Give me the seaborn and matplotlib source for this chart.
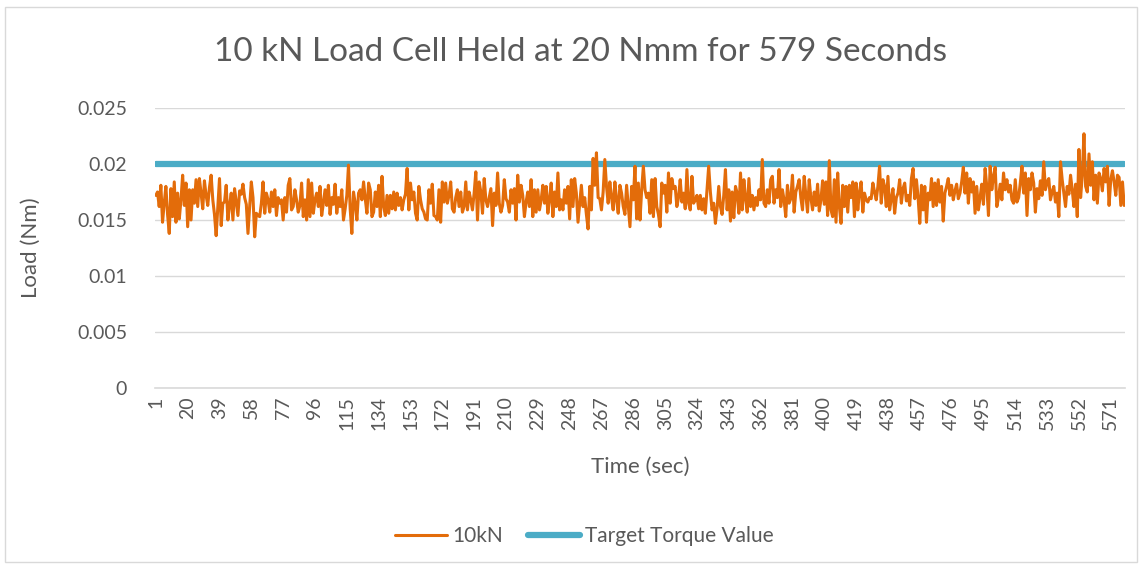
import numpy as np
import pandas as pd
import matplotlib
matplotlib.use('Agg')
import matplotlib.pyplot as plt
from matplotlib.patches import Rectangle
from matplotlib.lines import Line2D
import seaborn as sns

# ── DATA (load, in Nmm; plotted in Nm) ──
load_nmm = [
    17.2, 17.5, 16.2, 18.1, 14.8, 16.5, 18.0, 15.5, 13.8, 17.8, 15.3, 18.4, 14.8, 17.4, 15.1, 16.8, 19.0, 16.3, 18.3, 14.4,
    17.7, 15.0, 17.7, 16.5, 18.6, 16.2, 18.7, 17.4, 16.0, 18.5, 17.2, 16.3, 17.9, 19.0, 16.8, 15.5, 13.6, 16.2, 18.7, 14.5,
    16.5, 16.6, 18.1, 15.0, 16.3, 17.4, 15.0, 17.8, 16.6, 15.4, 17.6, 17.3, 18.2, 17.0, 16.4, 13.8, 16.2, 18.4, 17.0, 13.5,
    15.6, 15.4, 15.3, 16.5, 18.4, 15.6, 17.4, 16.8, 15.7, 17.5, 16.2, 17.7, 15.4, 17.0, 16.5, 16.8, 15.0, 17.0, 15.7, 18.1,
    18.7, 15.9, 16.2, 17.7, 16.8, 15.7, 16.3, 18.3, 15.3, 16.8, 15.0, 18.6, 15.3, 18.3, 15.6, 16.8, 17.4, 16.2, 18.0, 15.4,
    16.5, 17.7, 16.3, 18.1, 15.5, 17.0, 16.4, 18.2, 15.6, 17.0, 16.2, 17.7, 15.0, 16.0, 17.2, 19.9, 16.0, 13.8, 17.5, 16.5,
    15.0, 17.4, 17.7, 16.8, 18.4, 16.9, 15.6, 18.3, 17.7, 15.3, 15.7, 17.5, 16.2, 18.1, 15.3, 18.9, 16.2, 15.4, 17.2, 15.6,
    17.2, 16.0, 17.5, 15.9, 17.4, 16.3, 17.0, 15.9, 16.8, 17.3, 19.6, 15.9, 18.3, 16.8, 17.5, 15.6, 15.0, 18.0, 16.8, 16.0,
    15.7, 15.1, 15.0, 17.7, 16.5, 18.2, 15.4, 15.3, 15.0, 17.7, 14.8, 18.4, 16.6, 18.3, 16.5, 17.2, 18.4, 16.0, 15.7, 17.0,
    17.7, 16.2, 17.5, 15.7, 16.2, 18.4, 15.9, 17.5, 16.8, 15.9, 17.4, 19.3, 15.0, 18.4, 17.5, 15.6, 18.7, 16.8, 16.2, 17.0,
    17.8, 14.5, 17.4, 16.3, 19.2, 16.5, 15.7, 16.3, 18.6, 16.9, 16.6, 15.7, 17.7, 16.5, 17.8, 15.0, 19.0, 16.6, 18.1, 17.2,
    15.3, 16.6, 17.5, 16.2, 18.6, 15.3, 17.7, 15.7, 17.7, 15.9, 16.8, 18.1, 16.5, 18.0, 15.6, 16.9, 18.3, 15.3, 17.5, 16.2,
    19.2, 15.9, 16.8, 15.9, 17.7, 16.5, 18.0, 15.1, 18.6, 16.2, 18.7, 17.4, 14.8, 16.5, 18.1, 16.2, 17.0, 15.5, 14.2, 18.0,
    15.9, 20.5, 18.1, 21.0, 17.0, 16.9, 15.9, 17.5, 20.4, 18.0, 16.5, 18.4, 17.0, 15.9, 18.4, 16.8, 15.6, 18.1, 17.4, 16.2,
    15.5, 18.1, 16.2, 14.4, 18.0, 16.8, 19.8, 15.1, 18.3, 15.0, 17.7, 19.8, 17.7, 17.0, 17.4, 15.6, 18.6, 15.3, 18.7, 16.2,
    15.5, 14.4, 18.3, 17.4, 18.1, 15.7, 19.2, 16.5, 18.7, 17.8, 18.0, 16.2, 17.0, 18.6, 16.6, 17.4, 16.0, 19.5, 16.5, 15.9,
    18.9, 16.5, 16.8, 17.2, 16.0, 17.2, 15.9, 16.9, 15.6, 17.7, 19.8, 17.5, 15.9, 16.5, 14.7, 16.0, 18.0, 16.2, 15.5, 17.2,
    19.5, 15.9, 17.7, 14.9, 17.5, 15.2, 18.0, 17.4, 15.6, 19.2, 15.9, 18.6, 16.9, 15.7, 18.7, 16.2, 17.2, 15.9, 17.0, 16.3,
    17.7, 16.8, 20.4, 16.5, 16.2, 17.7, 16.5, 18.6, 18.9, 16.5, 17.7, 17.0, 19.5, 16.2, 17.7, 16.8, 15.3, 18.1, 16.5, 16.9,
    19.0, 15.7, 17.5, 18.0, 18.6, 17.0, 15.9, 18.9, 17.2, 15.7, 18.6, 17.0, 15.9, 17.5, 16.3, 18.2, 15.8, 16.8, 18.5, 16.4,
    18.4, 15.4, 20.3, 15.9, 15.3, 18.6, 14.8, 19.2, 16.2, 14.7, 18.1, 16.2, 18.0, 15.7, 18.1, 17.0, 18.4, 15.3, 18.3, 15.9,
    17.5, 18.4, 15.7, 17.4, 16.8, 16.6, 17.0, 16.9, 18.3, 17.5, 16.8, 18.0, 19.8, 16.5, 18.6, 18.0, 16.2, 18.9, 15.9, 16.9,
    17.8, 15.6, 17.0, 17.4, 18.6, 16.5, 17.8, 18.3, 16.7, 17.2, 16.3, 18.7, 19.6, 16.9, 18.6, 17.0, 14.7, 18.1, 15.9, 18.0,
    14.8, 17.4, 16.8, 18.7, 16.2, 18.3, 16.3, 18.6, 16.6, 18.0, 14.9, 17.4, 18.0, 18.7, 17.2, 18.1, 16.8, 17.6, 18.2, 16.9,
    17.4, 18.4, 19.7, 17.4, 19.2, 16.5, 18.7, 17.5, 18.4, 15.6, 18.0, 15.9, 17.0, 18.2, 16.4, 19.6, 18.0, 15.4, 19.8, 17.7,
    18.9, 19.7, 16.2, 17.0, 18.2, 16.8, 19.2, 17.7, 18.6, 17.5, 18.1, 16.8, 16.5, 18.6, 16.6, 17.0, 18.3, 19.8, 17.4, 19.2,
    15.4, 18.7, 17.7, 19.2, 18.3, 15.7, 17.8, 16.9, 18.5, 17.2, 20.2, 17.7, 18.4, 18.7, 16.8, 17.5, 18.0, 16.6, 17.4, 15.3,
    20.2, 18.6, 17.4, 16.2, 18.0, 17.3, 19.0, 17.7, 16.2, 18.2, 15.3, 21.3, 17.0, 19.0, 22.7, 18.0, 17.5, 20.9, 18.1, 20.2,
    16.8, 19.0, 16.5, 19.2, 18.7, 17.6, 19.6, 18.4, 19.8, 16.3, 18.6, 19.4, 18.4, 17.2, 19.0, 18.8, 16.3, 18.4, 16.3,
]
target_nm = 0.02
time_sec = list(range(1, len(load_nmm) + 1))
tick_labels = time_sec[::19]
y_ticks = [0, 0.005, 0.01, 0.015, 0.02, 0.025]
y_tick_labels = ['0', '0.005', '0.01', '0.015', '0.02', '0.025']

df = pd.DataFrame({'time': time_sec,
                   'load': np.array(load_nmm) / 1000.0,
                   'target': target_nm})

# ── STYLE ──
sns.set_theme(style='white')
plt.rcParams['font.family'] = ['Lato', 'DejaVu Sans']
TXT = '#595959'; ORANGE = '#E36C0A'; BLUE = '#4BACC6'; GRID = '#D9D9D9'

fig = plt.figure(figsize=(11.43, 5.67), dpi=100)
fig.patch.set_facecolor('white')
fig.patches.append(Rectangle((5 / 1143, 5 / 567), 1132 / 1143, 555 / 567,
                             transform=fig.transFigure, fill=False,
                             edgecolor=GRID, linewidth=1))
ax = fig.add_axes([155 / 1143, 1 - 388 / 567, 970 / 1143, 280 / 567])

sns.lineplot(data=df, x='time', y='target', ax=ax, color=BLUE, linewidth=4.5,
             solid_capstyle='round', zorder=2)
sns.lineplot(data=df, x='time', y='load', ax=ax, color=ORANGE, linewidth=2.2,
             zorder=3)

ax.set_xlim(0.5, len(load_nmm) + 0.5)
ax.set_ylim(0, 0.025)
ax.set_yticks(y_ticks)
ax.set_yticklabels(y_tick_labels)
ax.set_xticks(tick_labels)
ax.set_xticklabels([str(t) for t in tick_labels], rotation=90)
ax.tick_params(axis='both', length=0, labelsize=14, colors=TXT)
ax.tick_params(axis='y', pad=20)
ax.tick_params(axis='x', pad=6)
ax.yaxis.grid(True, color=GRID, linewidth=1)
ax.set_axisbelow(True)
for s in ['top', 'right', 'left']:
    ax.spines[s].set_visible(False)
ax.spines['bottom'].set_color(GRID)
ax.spines['bottom'].set_linewidth(1.2)

ax.set_xlabel('Time (sec)', fontsize=16, color=TXT, labelpad=19)
ax.set_ylabel('Load (Nm)', fontsize=16, color=TXT, labelpad=26)
fig.text(580 / 1143, 1 - 52 / 567, '10 kN Load Cell Held at 20 Nmm for 579 Seconds',
         ha='center', va='center', fontsize=24, color=TXT)

handles = [Line2D([], [], color=ORANGE, linewidth=2.2),
           Line2D([], [], color=BLUE, linewidth=4.5)]
fig.legend(handles, ['10kN', 'Target Torque Value'], loc='center',
           bbox_to_anchor=(584 / 1143, 1 - 536 / 567), ncol=2, frameon=False,
           fontsize=15, labelcolor=TXT, handlelength=2.5, columnspacing=1.2,
           handletextpad=0.25)

plt.savefig('out.png', dpi=100, facecolor='white')
